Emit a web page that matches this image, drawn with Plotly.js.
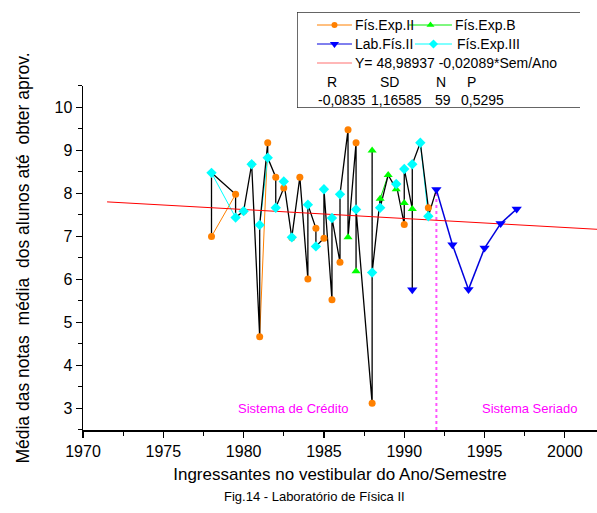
<!DOCTYPE html>
<html>
<head>
<meta charset="utf-8">
<script src="https://cdn.plot.ly/plotly-3.0.1.min.js"></script>
<style>
  html, body { margin: 0; padding: 0; background: #fff; }
  #chart { width: 597px; height: 513px; }
</style>
</head>
<body>
<div id="chart"></div>
<script>
// ---------------- data ----------------
const expII_x  = [1978.0, 1979.5, 1980.0, 1980.5, 1981.0, 1981.5, 1982.0, 1982.5, 1983.0, 1983.5, 1984.0, 1984.5, 1985.0, 1985.5, 1986.0, 1986.5, 1987.0, 1988.0, 1990.0, 1991.5];
const expII_y  = [7.00, 7.98, 7.59, 8.68, 4.67, 9.18, 8.38, 8.13, 6.97, 8.38, 6.01, 7.19, 6.96, 5.53, 6.40, 9.48, 9.18, 3.12, 7.28, 7.67];

const expB_x   = [1986.5, 1987.0, 1988.0, 1988.5, 1989.0, 1989.5, 1990.0, 1990.5];
const expB_y   = [6.98, 6.19, 9.00, 7.88, 8.43, 8.10, 7.78, 7.64];

const labII_x  = [1990.5, 1992.0, 1993.0, 1994.0, 1995.0, 1996.0, 1997.0];
const labII_y  = [5.76, 8.09, 6.81, 5.77, 6.73, 7.30, 7.64];

const expIII_x = [1978.0, 1979.5, 1980.0, 1980.5, 1981.0, 1981.5, 1982.0, 1982.5, 1983.0, 1984.0, 1984.5, 1985.0, 1985.5, 1986.0, 1987.0, 1988.0, 1988.5, 1989.5, 1990.0, 1990.5, 1991.0, 1991.5];
const expIII_y = [8.48, 7.44, 7.59, 8.68, 7.27, 8.83, 7.67, 8.28, 6.98, 7.74, 6.77, 8.10, 7.43, 7.98, 7.63, 6.16, 7.67, 8.22, 8.57, 8.68, 9.18, 7.47];

const seriesNames = ["Fís.Exp.II", "Fís.Exp.B", "Lab.Fís.II", "Fís.Exp.III"];

// regression (from the legend)
const regA = 48.98937, regB = -0.02089;
const regX = [1971.5, 2002];
const regText = "Y= 48,98937 -0,02089*Sem/Ano";
const statHead = ["R", "SD", "N", "P"];
const statVals = ["-0,0835", "1,16585", "59", "0,5295"];

const changeYear = 1992;          // Sistema de Crédito -> Sistema Seriado
const xTickVals = [1970, 1975, 1980, 1985, 1990, 1995, 2000];
const yTickVals = [3, 4, 5, 6, 7, 8, 9, 10];

// ---------------- styles ----------------
const FONT = "'Liberation Sans', Arial, Helvetica, sans-serif";
const colors = ["#ff8000", "#00ff00", "#0000ff", "#00ffff"];
const lineColors = ["#ff8000", "#00ee00", "#0000dd", "#00ffff"];
const symbols = ["circle", "triangle-up", "triangle-down", "diamond"];
const sizes = [7, 8, 9, 8];
// which own-colour segments of each series show (start index of each visible segment)
const segStarts = [[0, 4], [3], [1, 2, 3, 4, 5], [0, 4, 20]];

const series = [
  {x: expII_x, y: expII_y},
  {x: expB_x, y: expB_y},
  {x: labII_x, y: labII_y},
  {x: expIII_x, y: expIII_y}
];

const traces = [];

// coloured series lines (below the black connecting line)
series.forEach((s, i) => {
  const xs = [], ys = [];
  segStarts[i].forEach(j => {
    xs.push(s.x[j], s.x[j + 1], null);
    ys.push(s.y[j], s.y[j + 1], null);
  });
  traces.push({
    x: xs, y: ys, type: "scatter", mode: "lines", connectgaps: false,
    line: {color: lineColors[i], width: i === 2 ? 1.5 : 1},
    hoverinfo: "skip", showlegend: false
  });
});

// black line connecting all semesters in time order (credit system period)
const allPts = [];
series.forEach((s, i) => s.x.forEach((xv, j) => allPts.push({x: xv, y: s.y[j], k: i})));
allPts.sort((a, b) => (a.x - b.x) || (a.k - b.k));
const blk = allPts.filter(p => p.x <= changeYear);
traces.push({
  x: blk.map(p => p.x), y: blk.map(p => p.y), type: "scatter", mode: "lines",
  line: {color: "#000000", width: 1.3}, hoverinfo: "skip", showlegend: false
});

// regression line
traces.push({
  x: regX, y: regX.map(v => regA + regB * v), type: "scatter", mode: "lines",
  line: {color: "#ff0000", width: 1}, hoverinfo: "skip", showlegend: false
});

// markers
series.forEach((s, i) => {
  traces.push({
    x: s.x, y: s.y, type: "scatter", mode: "markers", name: seriesNames[i],
    marker: {color: colors[i], symbol: symbols[i], size: sizes[i], line: {width: 0}},
    showlegend: false
  });
});

// ---------------- hand-built legend in an overlay axis (pixel-like units) ----------------
const legRows = [25, 44, 63, 82, 100];
const legItems = [
  {k: 0, x0: 317, x1: 352, tx: 353, row: 0},
  {k: 1, x0: 409, x1: 452, tx: 453, row: 0},
  {k: 2, x0: 317, x1: 352, tx: 353, row: 1},
  {k: 3, x0: 415, x1: 452, tx: 455, row: 1}
];
const LF = {family: FONT, size: 14, color: "#000"};
const annotations = [];
legItems.forEach(it => {
  const yy = legRows[it.row];
  traces.push({
    x: [it.x0, it.x1], y: [yy, yy], xaxis: "x2", yaxis: "y2", type: "scatter", mode: "lines",
    line: {color: lineColors[it.k], width: 1}, hoverinfo: "skip", showlegend: false
  });
  traces.push({
    x: [(it.x0 + it.x1) / 2], y: [yy], xaxis: "x2", yaxis: "y2", type: "scatter", mode: "markers",
    marker: {color: colors[it.k], symbol: symbols[it.k], size: sizes[it.k] - 1, line: {width: 0}},
    hoverinfo: "skip", showlegend: false
  });
  annotations.push({xref: "x2", yref: "y2", x: it.tx, y: yy, text: seriesNames[it.k],
    showarrow: false, xanchor: "left", yanchor: "middle", font: LF});
});
traces.push({
  x: [317, 352], y: [legRows[2], legRows[2]], xaxis: "x2", yaxis: "y2", type: "scatter", mode: "lines",
  line: {color: "#ff7070", width: 1.2}, hoverinfo: "skip", showlegend: false
});
annotations.push({xref: "x2", yref: "y2", x: 353, y: legRows[2], text: regText, showarrow: false,
  xanchor: "left", yanchor: "middle", font: LF});
const headX = [325, 378, 434, 465];
statHead.forEach((t, i) => annotations.push({xref: "x2", yref: "y2", x: headX[i], y: legRows[3], text: t,
  showarrow: false, xanchor: "left", yanchor: "middle", font: LF}));
const valX = [316, 369, 433, 459];
statVals.forEach((t, i) => annotations.push({xref: "x2", yref: "y2", x: valX[i], y: legRows[4], text: t,
  showarrow: false, xanchor: "left", yanchor: "middle", font: LF}));

// text inside the plot
annotations.push({xref: "x", yref: "y", x: 1983.1, y: 3.0, text: "Sistema de Crédito", showarrow: false,
  xanchor: "center", yanchor: "middle", font: {family: FONT, size: 13, color: "#ff00ff"}});
annotations.push({xref: "x", yref: "y", x: 1997.8, y: 3.0, text: "Sistema Seriado", showarrow: false,
  xanchor: "center", yanchor: "middle", font: {family: FONT, size: 13, color: "#ff00ff"}});
// figure caption
annotations.push({xref: "paper", yref: "paper", x: 0.45, y: -0.158, text: "Fig.14 - Laboratório de Física II",
  showarrow: false, xanchor: "center", yanchor: "middle", font: {family: FONT, size: 13, color: "#000"}});

const shapes = [
  {type: "rect", xref: "x2", yref: "y2", x0: 297, x1: 582, y0: 12, y1: 108,
   line: {color: "#333333", width: 1.5}, fillcolor: "#ffffff", layer: "below"},
  {type: "line", xref: "x", yref: "y", x0: changeYear, x1: changeYear, y0: 2.5, y1: 8.09,
   line: {color: "#ff55ff", width: 2, dash: "dot"}, layer: "below"}
];

const layout = {
  width: 597, height: 513,
  margin: {l: 83, r: 0, t: 12, b: 83, pad: 0},
  paper_bgcolor: "#ffffff", plot_bgcolor: "rgba(0,0,0,0)",
  font: {family: FONT, size: 16, color: "#000"},
  showlegend: false,
  xaxis: {
    range: [1970, 2002], domain: [0, 1], tickvals: xTickVals,
    ticks: "outside", ticklen: 6, tickwidth: 1.2, tickcolor: "#000",
    minor: {dtick: 2.5, tick0: 1970, ticks: "outside", ticklen: 4, tickcolor: "#000", tickwidth: 1},
    showline: true, linecolor: "#000", linewidth: 1.5, showgrid: false, zeroline: false,
    tickfont: {family: FONT, size: 16, color: "#000"},
    title: {text: "Ingressantes no vestibular do Ano/Semestre", font: {family: FONT, size: 17, color: "#000"}, standoff: 9},
    automargin: false
  },
  yaxis: {
    range: [2.5, 10.5], domain: [0, 0.823], tickvals: yTickVals,
    ticks: "outside", ticklen: 6, tickwidth: 1.2, tickcolor: "#000",
    minor: {dtick: 0.5, tick0: 2.5, ticks: "outside", ticklen: 4, tickcolor: "#000", tickwidth: 1},
    showline: true, linecolor: "#000", linewidth: 1.5, showgrid: false, zeroline: false,
    tickfont: {family: FONT, size: 16, color: "#000"},
    title: {text: "Média das notas\u00a0 média\u00a0 dos alunos até\u00a0 obter aprov.", font: {family: FONT, size: 17.5, color: "#000"}, standoff: 20},
    automargin: false
  },
  xaxis2: {domain: [0.4163, 0.9669], range: [297, 580], visible: false, fixedrange: true, anchor: "y2"},
  yaxis2: {domain: [0.7703, 1], range: [108, 12], visible: false, fixedrange: true, anchor: "x2"},
  annotations: annotations,
  shapes: shapes
};

Plotly.newPlot("chart", traces, layout, {displayModeBar: false, staticPlot: true});
</script>
</body>
</html>
